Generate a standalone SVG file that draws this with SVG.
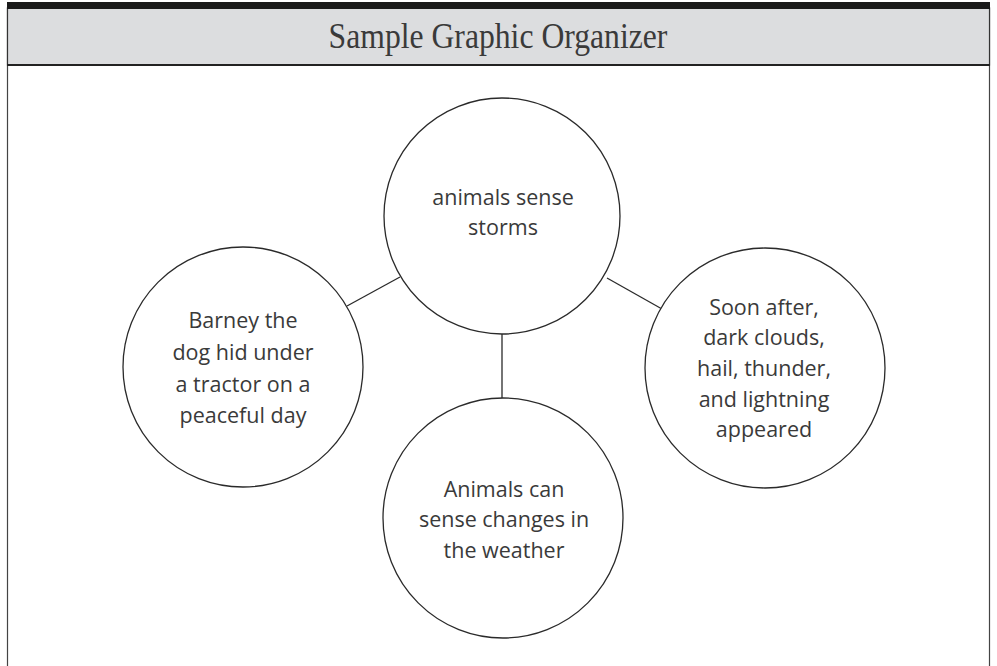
<svg xmlns="http://www.w3.org/2000/svg" width="997" height="666" viewBox="0 0 997 666">
<style>
.c{fill:#fff;stroke:#2a2a2a;stroke-width:1.3}
.t{font-family:"Open Sans","Noto Sans",sans-serif;font-size:21.5px;fill:#3a3a3a;text-anchor:middle}
.ln{stroke:#2a2a2a;stroke-width:1.3;fill:none}
</style>
<rect x="0" y="0" width="997" height="666" fill="#fff"/>
<g id="frame">
<rect x="7.5" y="8" width="982" height="700" fill="#fff" stroke="#444" stroke-width="1.2"/>
<rect x="7.5" y="8" width="982" height="57" fill="#dcdddf" stroke="#333" stroke-width="1.2"/>
<rect x="7" y="2" width="983" height="7" fill="#1a1a1a"/>
<line x1="7" y1="65" x2="990" y2="65" stroke="#222" stroke-width="2"/>
<text x="498" y="48" font-family="Liberation Serif, serif" font-size="36" fill="#3a3a3a" text-anchor="middle" transform="translate(498 0) scale(0.88 1) translate(-498 0)">Sample Graphic Organizer</text>
</g>
<g id="connectors">
<line class="ln" x1="502" y1="334" x2="502" y2="398"/>
<line class="ln" x1="400" y1="277" x2="347" y2="306"/>
<line class="ln" x1="607" y1="278" x2="662" y2="309"/>
</g>
<g id="node-center">
<circle class="c" cx="502" cy="216" r="118"/>
<text class="t" x="503" y="205">animals sense</text>
<text class="t" x="503" y="235">storms</text>
</g>
<g id="node-left">
<circle class="c" cx="243" cy="367" r="120"/>
<text class="t" x="243" y="328">Barney the</text>
<text class="t" x="243" y="360">dog hid under</text>
<text class="t" x="243" y="392">a tractor on a</text>
<text class="t" x="243" y="423">peaceful day</text>
</g>
<g id="node-right">
<circle class="c" cx="765" cy="368" r="120"/>
<text class="t" x="764" y="315">Soon after,</text>
<text class="t" x="764" y="345">dark clouds,</text>
<text class="t" x="764" y="376">hail, thunder,</text>
<text class="t" x="764" y="407">and lightning</text>
<text class="t" x="764" y="437">appeared</text>
</g>
<g id="node-bottom">
<circle class="c" cx="503" cy="518" r="120"/>
<text class="t" x="504" y="497">Animals can</text>
<text class="t" x="504" y="527">sense changes in</text>
<text class="t" x="504" y="558">the weather</text>
</g>
</svg>
